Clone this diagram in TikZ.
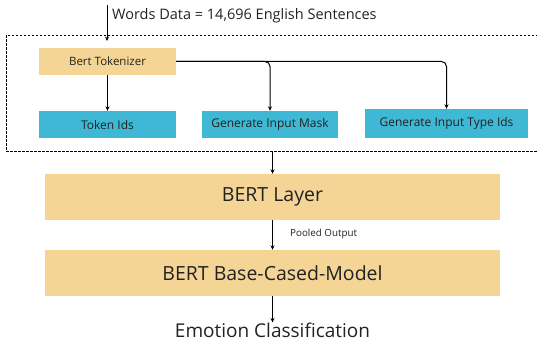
\documentclass[tikz,border=0pt]{standalone}
\usepackage{fontspec}
\setmainfont{Open Sans}
\usetikzlibrary{arrows.meta}
\definecolor{ylw}{HTML}{F5D596}
\definecolor{blu}{HTML}{3FB8D6}
\definecolor{txt}{HTML}{222222}
\begin{document}
\begin{tikzpicture}[x=1pt,y=-1pt,
  ybox/.style={fill=ylw,draw=none,inner sep=0pt,text=txt},
  bbox/.style={fill=blu,draw=none,inner sep=0pt,text=txt},
  arr/.style={draw=black,line width=1pt,-{Stealth[length=4.5pt,width=4pt]}},
  lbl/.style={inner sep=0pt,text=txt}]
\useasboundingbox (0,0) rectangle (537,342);
\node[draw=black,dash pattern=on 2.5pt off 1.5pt,line width=0.8pt,minimum width=540pt,minimum height=116pt,inner sep=0pt,anchor=north west] (grp) at (6,35) {};
\node[ybox,minimum width=137pt,minimum height=27pt,font=\fontsize{11.5}{13}\selectfont] (tok) at (107.5,61.5) {Bert Tokenizer};
\node[bbox,minimum width=137pt,minimum height=27pt,font=\fontsize{12}{14}\selectfont] (ids) at (107.5,124.5) {Token Ids};
\node[bbox,minimum width=136pt,minimum height=27pt,font=\fontsize{12}{14}\selectfont] (mask) at (270,124.5) {Generate Input Mask};
\node[bbox,minimum width=163pt,minimum height=29pt,font=\fontsize{12}{14}\selectfont] (type) at (446.5,123.5) {Generate Input Type Ids};
\node[ybox,minimum width=455pt,minimum height=46pt,font=\fontsize{19.5}{22}\selectfont] (bert) at (272.5,197) {BERT Layer};
\node[ybox,minimum width=455pt,minimum height=46pt,font=\fontsize{19.5}{22}\selectfont] (base) at (272.5,273) {BERT Base-Cased-Model};
\node[lbl,font=\fontsize{19}{22}\selectfont] (emo) at (272.5,330) {Emotion Classification};
\node[lbl,font=\fontsize{9.8}{11}\selectfont,anchor=west] (pool) at (290,234) {Pooled Output};
\coordinate (top) at (107,5);
\node[lbl,font=\fontsize{14.5}{17}\selectfont,anchor=west] (words) at (112,16) {Words Data = 14,696 English Sentences};
\draw[arr] (top) -- (107,41);
\draw[arr] (tok) -- (ids);
\draw[arr,rounded corners=5pt] (tok.east) -| (mask.north);
\draw[arr,rounded corners=5pt] (tok.east) -| (type.north);
\draw[arr] (grp.south -| bert.north) -- (bert.north);
\draw[arr] (bert) -- (base);
\draw[arr] (base.south) -- (emo.north);
\end{tikzpicture}
\end{document}
